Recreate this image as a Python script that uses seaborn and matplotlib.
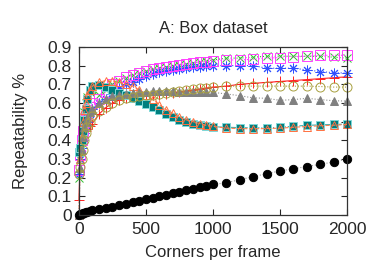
import pandas as pd
import seaborn as sns
import matplotlib.pyplot as plt
import numpy as np

# figure setup
dpi = 100
figsize = (3.74, 2.62)
sns.set_style('ticks')
plt.rcParams['font.family'] = ['Liberation Sans', 'DejaVu Sans']
plt.rcParams['font.size'] = 10

# corners per frame (sample positions)
corners = [0, 10, 20, 30, 40, 50, 60, 80, 100,
           150, 200, 250, 300, 350, 400, 450, 500, 550, 600, 650, 700, 750, 800, 850, 900, 950, 1000,
           1100, 1200, 1300, 1400, 1500, 1600, 1700, 1800, 1900, 2000]

# repeatability per detector
red = [0.08, 0.30, 0.38, 0.42, 0.44, 0.45, 0.46, 0.475, 0.49,
       0.54, 0.575, 0.60, 0.615, 0.625, 0.63, 0.635, 0.64, 0.64, 0.645, 0.65, 0.655, 0.66, 0.665, 0.67, 0.675, 0.68, 0.685,
       0.69, 0.70, 0.705, 0.71, 0.715, 0.72, 0.725, 0.73, 0.735, 0.74]
green = [0.20, 0.30, 0.42, 0.50, 0.55, 0.60, 0.63, 0.66, 0.67,
         0.64, 0.67, 0.70, 0.72, 0.735, 0.75, 0.76, 0.77, 0.78, 0.785, 0.79, 0.80, 0.805, 0.81, 0.815, 0.82, 0.825, 0.83,
         0.84, 0.84, 0.845, 0.85, 0.85, 0.85, 0.85, 0.85, 0.845, 0.84]
blue = [0.22, 0.30, 0.36, 0.40, 0.44, 0.48, 0.50, 0.54, 0.57,
        0.60, 0.62, 0.65, 0.68, 0.70, 0.71, 0.73, 0.745, 0.755, 0.765, 0.77, 0.775, 0.78, 0.785, 0.79, 0.795, 0.80, 0.80,
        0.80, 0.80, 0.80, 0.786, 0.786, 0.786, 0.777, 0.768, 0.762, 0.76]
magenta = [0.24, 0.32, 0.40, 0.45, 0.50, 0.53, 0.56, 0.58, 0.60,
           0.62, 0.66, 0.70, 0.72, 0.74, 0.75, 0.76, 0.77, 0.78, 0.785, 0.79, 0.80, 0.805, 0.81, 0.815, 0.82, 0.82, 0.825,
           0.83, 0.83, 0.834, 0.84, 0.843, 0.847, 0.85, 0.855, 0.855, 0.855]
teal = [0.34, 0.36, 0.40, 0.45, 0.51, 0.57, 0.62, 0.67, 0.69,
        0.695, 0.685, 0.67, 0.655, 0.64, 0.625, 0.61, 0.595, 0.58, 0.56, 0.54, 0.525, 0.51, 0.50, 0.49, 0.483, 0.477, 0.473,
        0.47, 0.468, 0.467, 0.467, 0.47, 0.476, 0.48, 0.483, 0.485, 0.487]
orange = [0.0, 0.30, 0.42, 0.50, 0.56, 0.60, 0.64, 0.67, 0.69,
          0.71, 0.72, 0.715, 0.71, 0.70, 0.69, 0.67, 0.645, 0.62, 0.59, 0.565, 0.545, 0.525, 0.51, 0.50, 0.49, 0.48, 0.475,
          0.465, 0.463, 0.462, 0.463, 0.465, 0.47, 0.474, 0.478, 0.481, 0.485]
gray = [0.0, 0.25, 0.35, 0.42, 0.47, 0.50, 0.52, 0.55, 0.57,
        0.60, 0.62, 0.635, 0.645, 0.65, 0.655, 0.66, 0.66, 0.665, 0.665, 0.665, 0.665, 0.66, 0.66, 0.66, 0.658, 0.657, 0.657,
        0.648, 0.639, 0.627, 0.625, 0.614, 0.618, 0.625, 0.618, 0.612, 0.61]
olive = [0.22, 0.26, 0.30, 0.35, 0.40, 0.44, 0.47, 0.50, 0.53,
         0.555, 0.58, 0.60, 0.615, 0.625, 0.63, 0.635, 0.64, 0.645, 0.65, 0.655, 0.66, 0.665, 0.67, 0.675, 0.68, 0.68, 0.685,
         0.69, 0.69, 0.69, 0.69, 0.69, 0.69, 0.69, 0.688, 0.685, 0.685]
black = [0.0, 0.005, 0.008, 0.01, 0.012, 0.014, 0.016, 0.02, 0.025,
         0.032, 0.038, 0.045, 0.052, 0.06, 0.068, 0.077, 0.086, 0.094, 0.102, 0.11, 0.118, 0.126, 0.134, 0.142, 0.15, 0.157, 0.164,
         0.173, 0.19, 0.205, 0.222, 0.236, 0.248, 0.26, 0.272, 0.284, 0.30]

# (values, line colour, marker, face, edge, size, linestyle)
styles = [
    (red,     '#ff2020', '+', '#ff2020', '#ff2020', 7, '-'),
    (green,   '#30c030', 'x', '#30c030', '#30c030', 6, ':'),
    (blue,    '#3050ff', (8, 2, 0), '#3050ff', '#3050ff', 7, ':'),
    (magenta, '#ff40ff', 's', 'none', '#ff40ff', 6.5, ':'),
    (teal,    '#40b0b0', 's', '#007f7f', '#80d8d8', 6, '-.'),
    (orange,  '#ff8050', '^', 'none', '#ff7040', 6, '--'),
    (gray,    '#909090', '^', '#808080', '#808080', 6, ':'),
    (olive,   '#b0a040', 'o', 'none', '#a8a040', 6.5, ':'),
    (black,   '#a0a0a0', 'o', '#000000', '#000000', 6, ':'),
]

fig, ax = plt.subplots(figsize=figsize, dpi=dpi)
fig.subplots_adjust(left=0.211, right=0.928, bottom=0.179, top=0.821)

for vals, lc, mk, fc, ec, ms, ls in styles:
    sns.lineplot(x=corners, y=vals, ax=ax, color=lc, linestyle=ls, linewidth=0.8,
                 marker=mk, markersize=ms, markerfacecolor=fc, markeredgecolor=ec,
                 markeredgewidth=0.7, clip_on=False, legend=False)

ax.set_xlim(0, 2000)
ax.set_ylim(0, 0.9)
ax.set_xticks([0, 500, 1000, 1500, 2000])
ax.set_yticks(np.arange(0, 0.91, 0.1))
ax.set_yticklabels(['0', '0.1', '0.2', '0.3', '0.4', '0.5', '0.6', '0.7', '0.8', '0.9'])
ax.tick_params(direction='in', top=True, right=True, length=4, width=0.8, labelsize=12.5, pad=5)
for sp in ax.spines.values():
    sp.set_linewidth(0.9)
    sp.set_color('#333333')

ax.set_xlabel('Corners per frame', fontsize=12, labelpad=6)
ax.set_ylabel('Repeatability %', fontsize=12, labelpad=14)
ax.set_title('A: Box dataset', fontsize=12, pad=10)

fig.savefig('out.png', dpi=dpi)
